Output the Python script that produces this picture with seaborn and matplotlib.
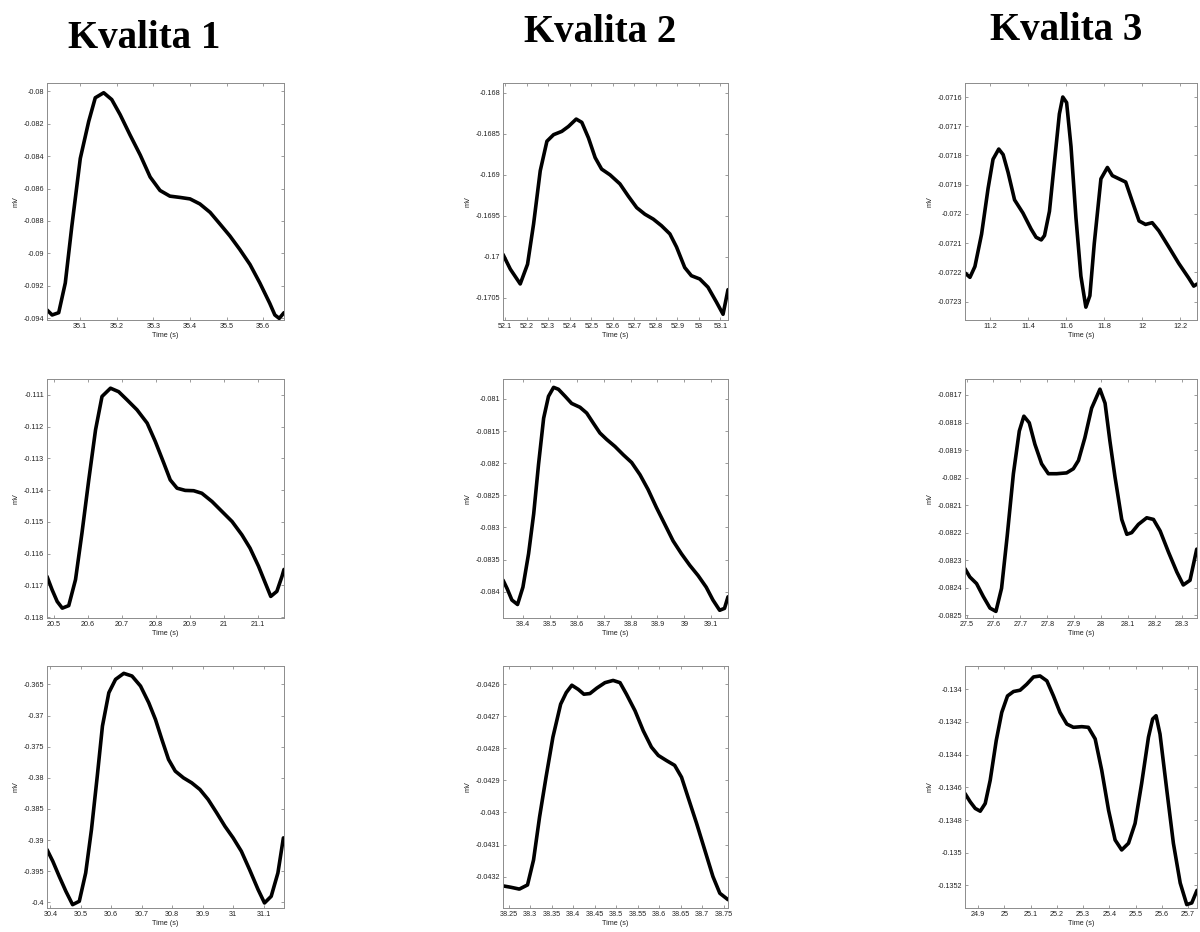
import matplotlib
matplotlib.use("Agg")
import matplotlib.pyplot as plt
import seaborn as sns
from matplotlib.ticker import FixedLocator, FixedFormatter

# ---- column headings ----
titles = ["Kvalita 1", "Kvalita 2", "Kvalita 3"]

# ---- Kvalita 1 ----
t_k1_a = [35.009, 35.023, 35.041, 35.059, 35.077, 35.100, 35.123, 35.141, 35.164, 35.186,
          35.209, 35.236, 35.264, 35.291, 35.318, 35.345, 35.373, 35.400, 35.427, 35.455,
          35.482, 35.509, 35.536, 35.564, 35.591, 35.618, 35.632, 35.644, 35.657]
mv_k1_a = [-0.09348, -0.09379, -0.09365, -0.09182, -0.08830, -0.08415, -0.08187, -0.08041, -0.08010, -0.08052,
           -0.08145, -0.08270, -0.08394, -0.08529, -0.08612, -0.08647, -0.08655, -0.08664, -0.08695, -0.08747,
           -0.08819, -0.08892, -0.08975, -0.09068, -0.09182, -0.09307, -0.09379, -0.09400, -0.09365]

t_k1_b = [20.480, 20.495, 20.510, 20.525, 20.544, 20.564, 20.583, 20.603, 20.623, 20.642,
          20.667, 20.691, 20.716, 20.745, 20.775, 20.799, 20.824, 20.843, 20.863, 20.887,
          20.912, 20.936, 20.966, 20.995, 21.025, 21.054, 21.078, 21.103, 21.123, 21.139,
          21.157, 21.172, 21.178]
mv_k1_b = [-0.11672, -0.11714, -0.11751, -0.11772, -0.11764, -0.11682, -0.11535, -0.11368, -0.11210, -0.11105,
           -0.11079, -0.11090, -0.11116, -0.11147, -0.11189, -0.11247, -0.11315, -0.11368, -0.11394, -0.11401,
           -0.11402, -0.11410, -0.11436, -0.11467, -0.11499, -0.11541, -0.11583, -0.11640, -0.11693, -0.11735,
           -0.11719, -0.11672, -0.11650]

t_k1_c = [30.389, 30.408, 30.429, 30.451, 30.473, 30.495, 30.516, 30.535, 30.554, 30.571,
          30.592, 30.614, 30.641, 30.668, 30.696, 30.723, 30.745, 30.766, 30.788, 30.810,
          30.837, 30.864, 30.891, 30.918, 30.946, 30.973, 31.000, 31.027, 31.054, 31.082,
          31.103, 31.125, 31.147, 31.165]
mv_k1_c = [-0.39153, -0.39340, -0.39582, -0.39823, -0.40037, -0.39983, -0.39528, -0.38831, -0.37974, -0.37170,
           -0.36634, -0.36420, -0.36323, -0.36366, -0.36527, -0.36795, -0.37063, -0.37384, -0.37706, -0.37893,
           -0.38001, -0.38081, -0.38188, -0.38349, -0.38563, -0.38778, -0.38965, -0.39180, -0.39475, -0.39796,
           -0.40010, -0.39903, -0.39528, -0.38965]

# ---- Kvalita 2 ----
t_k2_a = [52.090, 52.124, 52.170, 52.204, 52.232, 52.263, 52.294, 52.325, 52.363, 52.394,
          52.430, 52.456, 52.487, 52.518, 52.548, 52.587, 52.633, 52.672, 52.711, 52.749,
          52.788, 52.826, 52.865, 52.896, 52.934, 52.965, 53.004, 53.042, 53.081, 53.112,
          53.135]
mv_k2_a = [-0.16997, -0.17015, -0.17033, -0.17009, -0.16960, -0.16895, -0.16859, -0.16851, -0.16847, -0.16841,
           -0.16832, -0.16836, -0.16855, -0.16879, -0.16893, -0.16900, -0.16911, -0.16926, -0.16940, -0.16948,
           -0.16954, -0.16962, -0.16972, -0.16988, -0.17013, -0.17023, -0.17027, -0.17037, -0.17055, -0.17070,
           -0.17040]

t_k2_b = [38.326, 38.341, 38.359, 38.380, 38.400, 38.421, 38.440, 38.458, 38.477, 38.495,
          38.514, 38.532, 38.557, 38.581, 38.612, 38.637, 38.662, 38.686, 38.711, 38.742,
          38.773, 38.804, 38.835, 38.865, 38.896, 38.927, 38.958, 38.989, 39.020, 39.051,
          39.081, 39.106, 39.131, 39.149, 39.162]
mv_k2_b = [-0.08382, -0.08395, -0.08413, -0.08420, -0.08393, -0.08341, -0.08279, -0.08202, -0.08130, -0.08096,
           -0.08082, -0.08085, -0.08096, -0.08107, -0.08113, -0.08122, -0.08138, -0.08153, -0.08163, -0.08174,
           -0.08187, -0.08199, -0.08218, -0.08241, -0.08269, -0.08295, -0.08321, -0.08341, -0.08359, -0.08375,
           -0.08393, -0.08413, -0.08429, -0.08426, -0.08408]

t_k2_c = [38.237, 38.254, 38.275, 38.294, 38.308, 38.322, 38.337, 38.353, 38.371, 38.384,
          38.397, 38.412, 38.425, 38.439, 38.455, 38.474, 38.493, 38.509, 38.524, 38.544,
          38.563, 38.582, 38.598, 38.617, 38.636, 38.652, 38.667, 38.687, 38.706, 38.725,
          38.741, 38.760]
mv_k2_c = [-0.043229, -0.043233, -0.043239, -0.043226, -0.043148, -0.043014, -0.042890, -0.042765, -0.042662, -0.042626,
           -0.042603, -0.042616, -0.042631, -0.042629, -0.042612, -0.042595, -0.042588, -0.042595, -0.042631, -0.042683,
           -0.042745, -0.042796, -0.042822, -0.042838, -0.042853, -0.042890, -0.042952, -0.043034, -0.043117, -0.043200,
           -0.043252, -0.043272]

# ---- Kvalita 3 ----
t_k3_a = [11.070, 11.096, 11.122, 11.157, 11.191, 11.217, 11.247, 11.270, 11.296, 11.330,
          11.374, 11.417, 11.443, 11.470, 11.487, 11.513, 11.539, 11.565, 11.583, 11.603,
          11.626, 11.652, 11.678, 11.704, 11.725, 11.748, 11.783, 11.817, 11.843, 11.878,
          11.913, 11.948, 11.983, 12.017, 12.052, 12.087, 12.139, 12.191, 12.243, 12.270,
          12.287]
mv_k3_a = [-0.072202, -0.072217, -0.072180, -0.072069, -0.071913, -0.071813, -0.071778, -0.071797, -0.071858, -0.071952,
           -0.071997, -0.072052, -0.072080, -0.072089, -0.072074, -0.071991, -0.071824, -0.071658, -0.071600, -0.071619,
           -0.071769, -0.072013, -0.072213, -0.072319, -0.072280, -0.072102, -0.071880, -0.071841, -0.071869, -0.071880,
           -0.071891, -0.071958, -0.072024, -0.072036, -0.072030, -0.072058, -0.072113, -0.072169, -0.072219, -0.072247,
           -0.072240]

t_k3_b = [27.494, 27.512, 27.537, 27.562, 27.587, 27.609, 27.630, 27.651, 27.674, 27.696,
          27.713, 27.733, 27.754, 27.779, 27.804, 27.835, 27.872, 27.897, 27.916, 27.940,
          27.965, 27.996, 28.015, 28.033, 28.052, 28.077, 28.096, 28.114, 28.139, 28.170,
          28.195, 28.220, 28.251, 28.282, 28.306, 28.331, 28.356]
mv_k3_b = [-0.082331, -0.082361, -0.082385, -0.082432, -0.082474, -0.082486, -0.082402, -0.082212, -0.081986, -0.081831,
           -0.081777, -0.081801, -0.081879, -0.081950, -0.081986, -0.081986, -0.081983, -0.081968, -0.081938, -0.081855,
           -0.081748, -0.081679, -0.081730, -0.081867, -0.081998, -0.082152, -0.082206, -0.082200, -0.082170, -0.082146,
           -0.082152, -0.082194, -0.082271, -0.082343, -0.082390, -0.082373, -0.082260]

t_k3_c = [24.850, 24.870, 24.889, 24.908, 24.927, 24.946, 24.969, 24.990, 25.012, 25.035,
          25.060, 25.085, 25.111, 25.136, 25.162, 25.187, 25.212, 25.238, 25.263, 25.295,
          25.320, 25.346, 25.371, 25.397, 25.422, 25.447, 25.473, 25.498, 25.523, 25.549,
          25.565, 25.578, 25.593, 25.619, 25.644, 25.670, 25.695, 25.714, 25.734]
mv_k3_c = [-0.134638, -0.134689, -0.134729, -0.134746, -0.134699, -0.134557, -0.134314, -0.134142, -0.134041, -0.134014,
           -0.134006, -0.133970, -0.133925, -0.133919, -0.133949, -0.134041, -0.134142, -0.134213, -0.134233, -0.134229,
           -0.134233, -0.134304, -0.134496, -0.134740, -0.134922, -0.134983, -0.134942, -0.134821, -0.134577, -0.134294,
           -0.134182, -0.134162, -0.134274, -0.134618, -0.134942, -0.135185, -0.135317, -0.135307, -0.135230]

# ---- axis ticks (values and printed labels) and limits ----
xt_k1_a = [35.1, 35.2, 35.3, 35.4, 35.5, 35.6]
xl_k1_a = ["35.1", "35.2", "35.3", "35.4", "35.5", "35.6"]
yt_k1_a = [-0.094, -0.092, -0.09, -0.088, -0.086, -0.084, -0.082, -0.08]
yl_k1_a = ["-0.094", "-0.092", "-0.09", "-0.088", "-0.086", "-0.084", "-0.082", "-0.08"]

xt_k1_b = [20.5, 20.6, 20.7, 20.8, 20.9, 21.0, 21.1]
xl_k1_b = ["20.5", "20.6", "20.7", "20.8", "20.9", "21", "21.1"]
yt_k1_b = [-0.118, -0.117, -0.116, -0.115, -0.114, -0.113, -0.112, -0.111]
yl_k1_b = ["-0.118", "-0.117", "-0.116", "-0.115", "-0.114", "-0.113", "-0.112", "-0.111"]

xt_k1_c = [30.4, 30.5, 30.6, 30.7, 30.8, 30.9, 31.0, 31.1]
xl_k1_c = ["30.4", "30.5", "30.6", "30.7", "30.8", "30.9", "31", "31.1"]
yt_k1_c = [-0.4, -0.395, -0.39, -0.385, -0.38, -0.375, -0.37, -0.365]
yl_k1_c = ["-0.4", "-0.395", "-0.39", "-0.385", "-0.38", "-0.375", "-0.37", "-0.365"]

xt_k2_a = [52.1, 52.2, 52.3, 52.4, 52.5, 52.6, 52.7, 52.8, 52.9, 53.0, 53.1]
xl_k2_a = ["52.1", "52.2", "52.3", "52.4", "52.5", "52.6", "52.7", "52.8", "52.9", "53", "53.1"]
yt_k2_a = [-0.1705, -0.17, -0.1695, -0.169, -0.1685, -0.168]
yl_k2_a = ["-0.1705", "-0.17", "-0.1695", "-0.169", "-0.1685", "-0.168"]

xt_k2_b = [38.4, 38.5, 38.6, 38.7, 38.8, 38.9, 39.0, 39.1]
xl_k2_b = ["38.4", "38.5", "38.6", "38.7", "38.8", "38.9", "39", "39.1"]
yt_k2_b = [-0.084, -0.0835, -0.083, -0.0825, -0.082, -0.0815, -0.081]
yl_k2_b = ["-0.084", "-0.0835", "-0.083", "-0.0825", "-0.082", "-0.0815", "-0.081"]

xt_k2_c = [38.25, 38.3, 38.35, 38.4, 38.45, 38.5, 38.55, 38.6, 38.65, 38.7, 38.75]
xl_k2_c = ["38.25", "38.3", "38.35", "38.4", "38.45", "38.5", "38.55", "38.6", "38.65", "38.7", "38.75"]
yt_k2_c = [-0.0432, -0.0431, -0.043, -0.0429, -0.0428, -0.0427, -0.0426]
yl_k2_c = ["-0.0432", "-0.0431", "-0.043", "-0.0429", "-0.0428", "-0.0427", "-0.0426"]

xt_k3_a = [11.2, 11.4, 11.6, 11.8, 12.0, 12.2]
xl_k3_a = ["11.2", "11.4", "11.6", "11.8", "12", "12.2"]
yt_k3_a = [-0.0723, -0.0722, -0.0721, -0.072, -0.0719, -0.0718, -0.0717, -0.0716]
yl_k3_a = ["-0.0723", "-0.0722", "-0.0721", "-0.072", "-0.0719", "-0.0718", "-0.0717", "-0.0716"]

xt_k3_b = [27.5, 27.6, 27.7, 27.8, 27.9, 28.0, 28.1, 28.2, 28.3]
xl_k3_b = ["27.5", "27.6", "27.7", "27.8", "27.9", "28", "28.1", "28.2", "28.3"]
yt_k3_b = [-0.0825, -0.0824, -0.0823, -0.0822, -0.0821, -0.082, -0.0819, -0.0818, -0.0817]
yl_k3_b = ["-0.0825", "-0.0824", "-0.0823", "-0.0822", "-0.0821", "-0.082", "-0.0819", "-0.0818", "-0.0817"]

xt_k3_c = [24.9, 25.0, 25.1, 25.2, 25.3, 25.4, 25.5, 25.6, 25.7]
xl_k3_c = ["24.9", "25", "25.1", "25.2", "25.3", "25.4", "25.5", "25.6", "25.7"]
yt_k3_c = [-0.1352, -0.135, -0.1348, -0.1346, -0.1344, -0.1342, -0.134]
yl_k3_c = ["-0.1352", "-0.135", "-0.1348", "-0.1346", "-0.1344", "-0.1342", "-0.134"]

xlim_k1 = [(35.009, 35.657), (20.480, 21.178), (30.389, 31.167)]
ylim_k1 = [(-0.0941, -0.0795), (-0.11803, -0.1105), (-0.40091, -0.36205)]
xlim_k2 = [(52.090, 53.135), (38.326, 39.162), (38.237, 38.760)]
ylim_k2 = [(-0.17077, -0.16788), (-0.08441, -0.08069), (-0.043298, -0.042543)]
xlim_k3 = [(11.070, 12.287), (27.494, 28.357), (24.850, 25.734)]
ylim_k3 = [(-0.072363, -0.071552), (-0.08251, -0.081642), (-0.135338, -0.133858)]

columns = [
    [(t_k1_a, mv_k1_a, xt_k1_a, xl_k1_a, yt_k1_a, yl_k1_a),
     (t_k1_b, mv_k1_b, xt_k1_b, xl_k1_b, yt_k1_b, yl_k1_b),
     (t_k1_c, mv_k1_c, xt_k1_c, xl_k1_c, yt_k1_c, yl_k1_c)],
    [(t_k2_a, mv_k2_a, xt_k2_a, xl_k2_a, yt_k2_a, yl_k2_a),
     (t_k2_b, mv_k2_b, xt_k2_b, xl_k2_b, yt_k2_b, yl_k2_b),
     (t_k2_c, mv_k2_c, xt_k2_c, xl_k2_c, yt_k2_c, yl_k2_c)],
    [(t_k3_a, mv_k3_a, xt_k3_a, xl_k3_a, yt_k3_a, yl_k3_a),
     (t_k3_b, mv_k3_b, xt_k3_b, xl_k3_b, yt_k3_b, yl_k3_b),
     (t_k3_c, mv_k3_c, xt_k3_c, xl_k3_c, yt_k3_c, yl_k3_c)],
]
xlims = [xlim_k1, xlim_k2, xlim_k3]
ylims = [ylim_k1, ylim_k2, ylim_k3]

sns.set_style("white")
plt.rcParams["font.family"] = ["Liberation Sans", "DejaVu Sans"]

W, H = 1200, 932
fig = plt.figure(figsize=(W / 100, H / 100), dpi=100)
fig.patch.set_facecolor("white")

# pixel boxes of the panels: (left, right) per column, (top, bottom) per row
col_px = [(47, 284), (503, 728), (965, 1197)]
row_px = [(83, 320), (379, 618), (666, 908)]
title_x = [144, 600, 1066]
title_y = [38, 33, 30]

frame_col = "#8c8c8c"
text_col = "#222222"
for c in range(3):
    x0, x1 = col_px[c]
    fig.text(title_x[c] / W, 1 - title_y[c] / H, titles[c], ha="center", va="center",
             fontsize=28, fontweight="bold", color="black",
             family=["Liberation Serif", "DejaVu Serif"])
    for r in range(3):
        y0, y1 = row_px[r]
        ax = fig.add_axes([x0 / W, 1 - y1 / H, (x1 - x0) / W, (y1 - y0) / H])
        t, mv, xt, xl, yt, yl = columns[c][r]
        sns.lineplot(x=t, y=mv, ax=ax, color="black", linewidth=2.6,
                     estimator=None, sort=False,
                     solid_joinstyle="round", solid_capstyle="round")
        ax.set_xlim(*xlims[c][r])
        ax.set_ylim(*ylims[c][r])
        ax.xaxis.set_major_locator(FixedLocator(xt))
        ax.xaxis.set_major_formatter(FixedFormatter(xl))
        ax.yaxis.set_major_locator(FixedLocator(yt))
        ax.yaxis.set_major_formatter(FixedFormatter(yl))
        ax.tick_params(direction="in", length=2.5, width=0.6, color=frame_col,
                       labelsize=5.2, labelcolor=text_col, top=True, right=True,
                       bottom=True, left=True, pad=2)
        for s in ax.spines.values():
            s.set_visible(True)
            s.set_color(frame_col)
            s.set_linewidth(0.7)
        ax.set_xlabel("Time (s)", fontsize=5.2, color=text_col, labelpad=1.5)
        ax.set_ylabel("mV", fontsize=5.2, color=text_col, labelpad=3)

fig.savefig("out.png", dpi=100, facecolor="white")
